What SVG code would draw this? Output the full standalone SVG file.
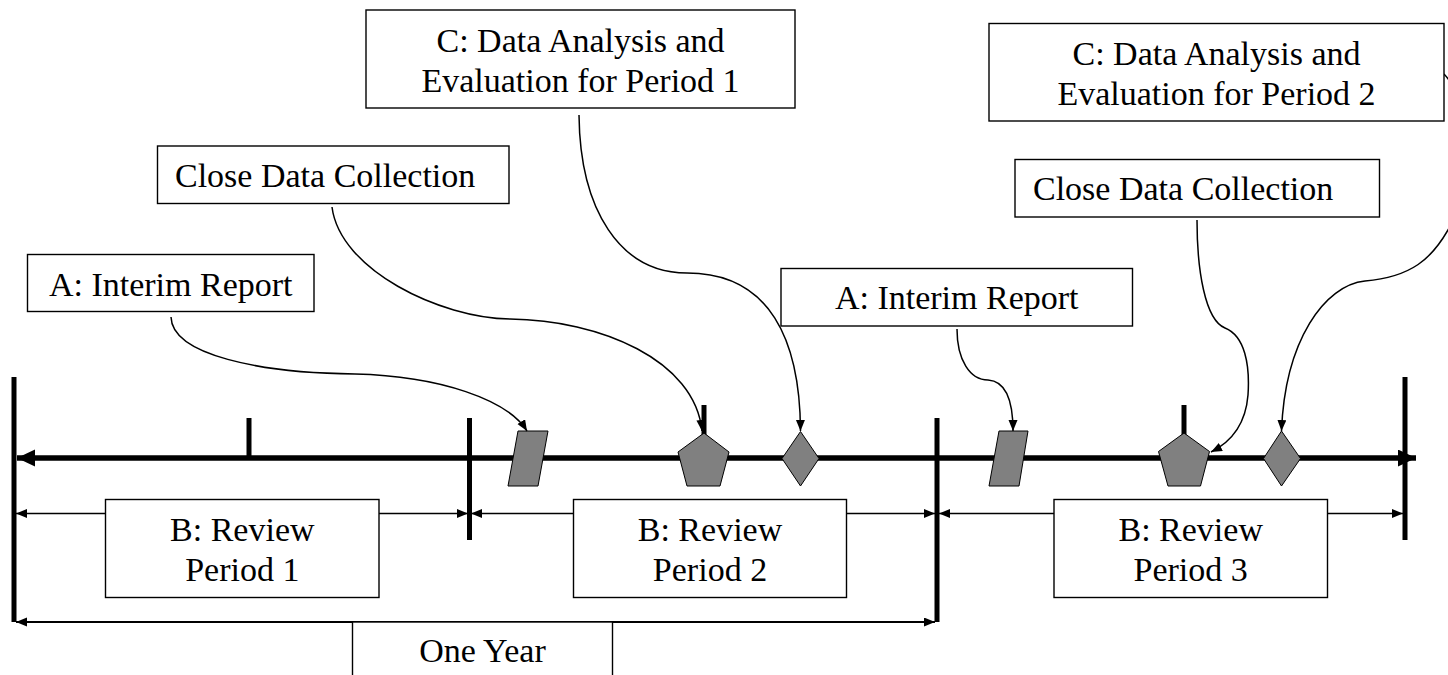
<svg xmlns="http://www.w3.org/2000/svg" width="1448" height="675" viewBox="0 0 1448 675">
<style>
.box{fill:#fff;stroke:#000;stroke-width:1.4}
.t{font-family:"Liberation Serif","Times New Roman",serif;font-size:34px;fill:#000}
.c{text-anchor:middle}
.bar{stroke:#000;stroke-width:5;fill:none}
.conn{fill:none;stroke:#000;stroke-width:1.5}
.br{stroke:#000;stroke-width:1.3;fill:none}
.br2{stroke:#000;stroke-width:2;fill:none}
.shape{fill:#808080;stroke:#000;stroke-width:1}
</style>
<defs>
<marker id="ah" markerUnits="userSpaceOnUse" markerWidth="12" markerHeight="10" refX="11" refY="4.5" orient="auto-start-reverse">
<path d="M0,0 L11,4.5 L0,9 z" fill="#000"/>
</marker>
<marker id="big" markerUnits="userSpaceOnUse" markerWidth="20" markerHeight="18" refX="18" refY="8.5" orient="auto-start-reverse">
<path d="M0,0 L18,8.5 L0,17 z" fill="#000"/>
</marker>
</defs>

<g id="timeline">
<line class="bar" x1="14" y1="377" x2="14" y2="622"/>
<line class="bar" x1="249" y1="418" x2="249" y2="458"/>
<line class="bar" x1="469.5" y1="418" x2="469.5" y2="540"/>
<line class="bar" x1="704" y1="405" x2="704" y2="440"/>
<line class="bar" x1="937" y1="418" x2="937" y2="622"/>
<line class="bar" x1="1184" y1="405" x2="1184" y2="440"/>
<line class="bar" x1="1405" y1="377" x2="1405" y2="540"/>
<line x1="17" y1="458" x2="1416" y2="458" stroke="#000" stroke-width="5.5" marker-start="url(#big)" marker-end="url(#big)"/>
</g>

<g id="brackets">
<line class="br" x1="16" y1="513.5" x2="468" y2="513.5" marker-start="url(#ah)" marker-end="url(#ah)"/>
<line class="br" x1="471" y1="513.5" x2="935" y2="513.5" marker-start="url(#ah)" marker-end="url(#ah)"/>
<line class="br" x1="939" y1="513.5" x2="1403" y2="513.5" marker-start="url(#ah)" marker-end="url(#ah)"/>
<line class="br2" x1="16" y1="622" x2="935" y2="622" marker-start="url(#ah)" marker-end="url(#ah)"/>
</g>

<g id="milestones">
<polygon id="interim1" class="shape" points="518,431 548,431 538,486 508,486"/>
<polygon id="close1" class="shape" points="704,433 729,452 720,486 687,486 678,452"/>
<polygon id="eval1" class="shape" points="800.5,431.5 819,458.5 800.5,486 782,458.5"/>
<polygon id="interim2" class="shape" points="999,431 1028,431 1019,486 989,486"/>
<polygon id="close2" class="shape" points="1184,433 1209.5,451.5 1200.5,486 1168,486 1158.5,451.5"/>
<polygon id="eval2" class="shape" points="1281.5,431 1300.5,458.5 1281.5,486 1263.5,458.5"/>
</g>

<g id="connectors">
<path class="conn" d="M171,317 C172,355 260,373 355,374 C440,376 508,400 527,431" marker-end="url(#ah)"/>
<path class="conn" d="M332,207 C340,270 440,318 510,319 C600,320 695,360 702,431" marker-end="url(#ah)"/>
<path class="conn" d="M579,115 C580,210 620,273 687,273 C770,273 800,340 800.5,431" marker-end="url(#ah)"/>
<path class="conn" d="M957,329 C957,360 970,380 988,380 C1005,381 1013,400 1013,431" marker-end="url(#ah)"/>
<path class="conn" d="M1197,220 C1197,270 1205,320 1225,328 C1245,336 1250,365 1248,395 C1246,420 1235,440 1211,452" marker-end="url(#ah)"/>
<path class="conn" d="M1444,74 C1470,100 1472,190 1448,230 C1432,258 1412,277 1365,281 C1325,285 1285,340 1281.5,431" marker-end="url(#ah)"/>
</g>

<g id="c1">
<rect class="box" x="366" y="10" width="429" height="98"/>
<text class="t c" x="580.5" y="51.7">C: Data Analysis and</text>
<text class="t c" x="580.5" y="91.7">Evaluation for Period 1</text>
</g>
<g id="c2">
<rect class="box" x="989" y="23.5" width="455" height="97.5"/>
<text class="t c" x="1216.5" y="65">C: Data Analysis and</text>
<text class="t c" x="1216.5" y="105">Evaluation for Period 2</text>
</g>
<g id="close-label1">
<rect class="box" x="157.5" y="146" width="351.5" height="57.5"/>
<text class="t" x="175" y="186.7">Close Data Collection</text>
</g>
<g id="close-label2">
<rect class="box" x="1015" y="159.5" width="364.5" height="57.5"/>
<text class="t" x="1033" y="200">Close Data Collection</text>
</g>
<g id="a1">
<rect class="box" x="27.5" y="254.5" width="286.5" height="57"/>
<text class="t c" x="170.7" y="295.7">A: Interim Report</text>
</g>
<g id="a2">
<rect class="box" x="781" y="268.5" width="351.5" height="57.5"/>
<text class="t c" x="956.7" y="309">A: Interim Report</text>
</g>
<g id="b1">
<rect class="box" x="105.5" y="499.5" width="273.5" height="98"/>
<text class="t c" x="242.3" y="540.7">B: Review</text>
<text class="t c" x="242.3" y="580.7">Period 1</text>
</g>
<g id="b2">
<rect class="box" x="573.5" y="499.5" width="273" height="98"/>
<text class="t c" x="710" y="540.7">B: Review</text>
<text class="t c" x="710" y="580.7">Period 2</text>
</g>
<g id="b3">
<rect class="box" x="1054" y="499.5" width="273.5" height="98"/>
<text class="t c" x="1190.7" y="540.7">B: Review</text>
<text class="t c" x="1190.7" y="580.7">Period 3</text>
</g>
<g id="one-year">
<rect class="box" x="352.5" y="622" width="260" height="70"/>
<text class="t c" x="482.5" y="661.7">One Year</text>
</g>
</svg>
